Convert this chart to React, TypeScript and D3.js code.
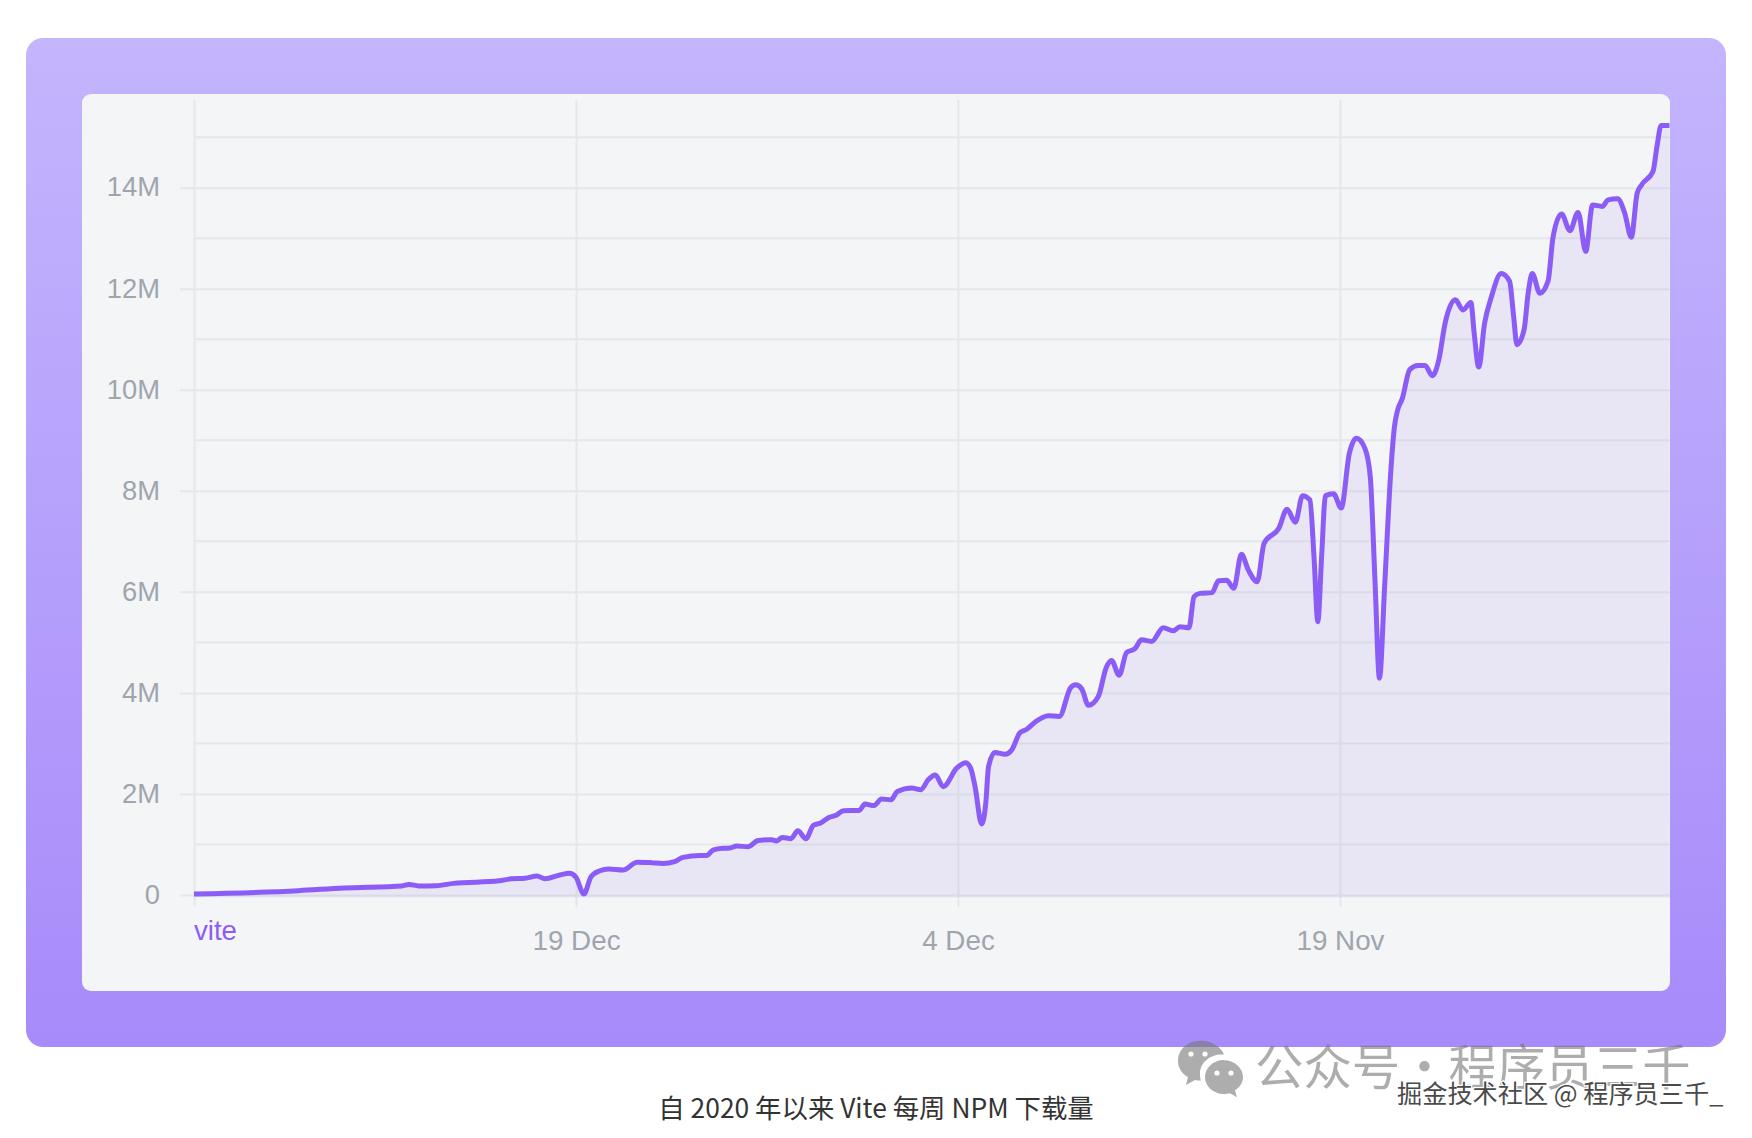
import React, { useEffect, useRef } from 'react';
import * as d3 from 'd3';

// days counted from the left edge of the axis
const dayOffsets = [
  0, 4.1, 5.89, 8.17, 8.44, 8.83, 9.5, 10.19, 11.98, 12.45, 13, 13.47, 13.78, 14.37, 14.75, 15, 15.31, 15.59, 15.94,
  16.28, 16.85, 17.4, 17.96, 18.42, 18.87, 19.2, 19.87, 20.13, 20.38, 20.77, 21.05, 21.31, 21.75, 22.15, 22.68, 22.88,
  23.1, 23.44, 23.71, 24.03, 24.32, 24.58, 24.91, 25.24, 25.5, 26.12, 26.35, 26.7, 27, 27.37, 27.62, 28.18, 28.54,
  28.83, 29.11, 29.42, 29.95, 30.3, 30.5, 30.67, 30.93, 31.09, 31.2, 31.45, 31.85, 32.11, 32.43, 32.7, 33.02, 33.55,
  33.98, 34.42, 34.62, 34.86, 35.12, 35.51, 35.82, 36.03, 36.33, 36.62, 36.95, 37.21, 37.61, 38.06, 38.45, 38.72, 39.07, 39.27, 39.5,
  39.98, 40.23, 40.55, 40.83, 41.13, 41.4, 41.75, 42.02, 42.6, 42.92, 43.25, 43.53, 43.82, 43.98, 44.13, 44.28, 44.43,
  44.75, 45.05, 45.37, 45.65, 45.98, 46.19, 46.38, 46.55, 46.76, 47, 47.14, 47.25, 47.45, 47.74, 48.07, 48.34, 48.63,
  48.88, 49.13, 49.53, 49.83, 50.14, 50.27, 50.45, 50.68, 50.93, 51.33, 51.66, 51.82, 51.95, 52.23, 52.39, 52.55,
  52.85, 53.17, 53.37, 53.7, 54.03, 54.35, 54.65, 54.92, 55.3, 55.53, 55.9, 56.18, 56.44, 56.67, 56.85, 57.29, 57.45,
  57.61, 57.94,
];

// weekly downloads, millions
const downloads = [
  0.02, 0.085, 0.14, 0.18, 0.21, 0.18, 0.185, 0.23, 0.28, 0.32, 0.33, 0.376, 0.32, 0.396, 0.43, 0.35, 0.02, 0.36, 0.48,
  0.515, 0.495, 0.65, 0.64, 0.625, 0.66, 0.745, 0.78, 0.78, 0.89, 0.925, 0.93, 0.97, 0.955, 1.08, 1.095, 1.07,
  1.14, 1.115, 1.27, 1.115, 1.38, 1.42, 1.53, 1.585, 1.67, 1.675, 1.8, 1.77, 1.9, 1.885, 2.05, 2.12, 2.085,
  2.28, 2.376, 2.145, 2.51, 2.62, 2.51, 2.145, 1.405, 1.81, 2.54, 2.82, 2.785, 2.87, 3.21, 3.28, 3.42, 3.55,
  3.535, 4.1, 4.16, 4.08, 3.755, 3.93, 4.5, 4.64, 4.35, 4.8, 4.875, 5.05, 5.02, 5.29, 5.23, 5.31, 5.29, 5.905, 5.97,
  5.985, 6.22, 6.23, 6.07, 6.745, 6.435, 6.2, 6.96, 7.26, 7.635, 7.38, 7.905, 7.82, 6.7, 5.41, 6.7, 7.905,
  7.94, 7.66, 8.745, 9.04, 8.84, 8.28, 6.17, 4.29, 6.17, 8.415, 9.27, 9.57, 9.83, 10.4, 10.48, 10.48, 10.28,
  10.59, 11.32, 11.78, 11.58, 11.73, 11.12, 10.45, 11.32, 11.81, 12.3, 12.15, 11.45, 10.89, 11.19, 11.91, 12.3,
  11.91, 12.15, 13.03, 13.48, 13.15, 13.51, 12.74, 13.66, 13.63, 13.76, 13.78, 13.5, 13.02, 13.89, 14.06, 14.32, 14.82,
  15.23, 15.23,
];

const xTickDays = [0, 15, 30, 45];
const xTickLabels = ['', '19 Dec', '4 Dec', '19 Nov'];
const yMajorTicks = [0, 2, 4, 6, 8, 10, 12, 14];
const yMinorTicks = [1, 3, 5, 7, 9, 11, 13, 15];
const seriesName = 'vite';
const caption = '自 2020 年以来 Vite 每周 NPM 下载量';
const watermark = '公众号·程序员三千';
const siteMark = '掘金技术社区 @ 程序员三千_';

const W = 1752;
const H = 1138;
const VIOLET = '#8b5cf6';
const GRID = '#e5e7eb';
const TICK_TEXT = '#9fa5ad';
const SANS = '"Liberation Sans", Arial, sans-serif';
const CJK = '"Noto Sans CJK SC", "Liberation Sans", sans-serif';

export default function App() {
  const svgRef = useRef<SVGSVGElement>(null);

  useEffect(() => {
    if (!svgRef.current) return;
    const svg = d3.select(svgRef.current);
    svg.selectAll('*').remove();

    const card = { left: 26, top: 38, right: 1726, bottom: 1047 };
    const inner = { left: 82, top: 94, right: 1670, bottom: 991 };
    const plot = { left: 194, top: 100, right: 1670, bottom: 907 };

    const x = d3.scaleLinear().domain([0, 57.96]).range([plot.left, plot.right]);
    const y = d3.scaleLinear().domain([0, 14]).range([895, 187.7]);

    const defs = svg.append('defs');
    const grad = defs.append('linearGradient').attr('id', 'card-bg').attr('x1', 0).attr('y1', 0).attr('x2', 0).attr('y2', 1);
    grad.append('stop').attr('offset', '0%').attr('stop-color', '#c4b5fd');
    grad.append('stop').attr('offset', '100%').attr('stop-color', '#a78bfa');
    defs.append('clipPath').attr('id', 'inner-clip')
      .append('rect')
      .attr('x', inner.left).attr('y', inner.top)
      .attr('width', inner.right - inner.left).attr('height', inner.bottom - inner.top)
      .attr('rx', 9);

    svg.append('rect')
      .attr('x', card.left).attr('y', card.top)
      .attr('width', card.right - card.left).attr('height', card.bottom - card.top)
      .attr('rx', 17)
      .attr('fill', 'url(#card-bg)');

    svg.append('rect')
      .attr('x', inner.left).attr('y', inner.top)
      .attr('width', inner.right - inner.left).attr('height', inner.bottom - inner.top)
      .attr('rx', 9)
      .attr('fill', '#f3f5f7');

    const chart = svg.append('g').attr('clip-path', 'url(#inner-clip)');

    // minor horizontal lines start at the first vertical line
    chart.append('g')
      .selectAll('line')
      .data(yMinorTicks)
      .join('line')
      .attr('x1', plot.left).attr('x2', plot.right)
      .attr('y1', d => y(d)).attr('y2', d => y(d))
      .attr('stroke', GRID).attr('stroke-width', 2);

    // major lines with their labels
    const yAxis = d3.axisLeft(y)
      .tickValues(yMajorTicks)
      .tickSize(-(plot.right - 180))
      .tickPadding(20)
      .tickFormat(d => (+d === 0 ? '0' : `${d}M`));

    const yG = chart.append('g').attr('transform', 'translate(180,0)').call(yAxis);
    yG.select('.domain').remove();
    yG.selectAll('line').attr('stroke', GRID).attr('stroke-width', 2);
    yG.selectAll('text')
      .attr('y', -0.5)
      .attr('fill', TICK_TEXT)
      .attr('font-family', SANS)
      .attr('font-size', 27.4);

    // vertical lines with the date labels
    const xAxis = d3.axisBottom(x)
      .tickValues(xTickDays)
      .tickSize(-(plot.bottom - plot.top))
      .tickPadding(0)
      .tickFormat((_, i) => xTickLabels[i]);

    const xG = chart.append('g').attr('transform', `translate(0,${plot.bottom})`).call(xAxis);
    xG.select('.domain').remove();
    xG.selectAll('line').attr('stroke', GRID).attr('stroke-width', 2);
    xG.selectAll('text')
      .attr('y', 42.5)
      .attr('dy', 0)
      .attr('fill', TICK_TEXT)
      .attr('font-family', SANS)
      .attr('font-size', 27.8);

    const points = dayOffsets.map((d, i) => ({ day: d, value: downloads[i] }));

    const area = d3.area<{ day: number; value: number }>()
      .x(d => x(d.day))
      .y0(y(-0.05))
      .y1(d => y(d.value))
      .curve(d3.curveMonotoneX);

    chart.append('path')
      .datum(points)
      .attr('fill', '#7c5ce0')
      .attr('fill-opacity', 0.09)
      .attr('d', area);

    const line = d3.line<{ day: number; value: number }>()
      .x(d => x(d.day))
      .y(d => y(d.value))
      .curve(d3.curveMonotoneX);

    chart.append('path')
      .datum(points)
      .attr('fill', 'none')
      .attr('stroke', VIOLET)
      .attr('stroke-width', 5)
      .attr('stroke-linejoin', 'round')
      .attr('d', line);

    chart.append('text')
      .attr('x', x(0)).attr('y', 940)
      .attr('fill', VIOLET)
      .attr('font-family', SANS)
      .attr('font-size', 27.6)
      .text(seriesName);

    svg.append('text')
      .attr('x', 876).attr('y', 1118)
      .attr('text-anchor', 'middle')
      .attr('fill', '#333')
      .attr('font-family', CJK)
      .attr('font-size', 26.4)
      .text(caption);

    // watermark: two chat bubbles, name, then the site line on top
    const mark = svg.append('g').attr('fill', '#777').attr('fill-opacity', 0.6);
    mark.append('path').attr('d', 'M1199 1041c-12 0-21 9-21 20 0 7 4 13 10 16l-2 8 9-5c2 .5 4 .6 6 .6-1-2-1-5-1-7 0-11 10-19 22-19 1 0 1 0 2 0-3-8-13-14-25-14z');
    mark.append('path').attr('d', 'M1224 1060c-11 0-19 8-19 17s8 17 19 17c2 0 4-.3 6-.8l7 4-2-7c5-3 8-8 8-13 0-9-8-17-19-17z');
    svg.append('g').attr('fill', '#fff')
      .selectAll('circle')
      .data([[1191, 1054], [1205, 1054], [1217, 1073], [1231, 1073]])
      .join('circle')
      .attr('cx', d => d[0]).attr('cy', d => d[1]).attr('r', 2.6);

    svg.append('text')
      .attr('x', 1255).attr('y', 1085)
      .attr('fill', '#777').attr('fill-opacity', 0.6)
      .attr('font-family', CJK)
      .attr('font-size', 48.4)
      .text(watermark);

    svg.append('text')
      .attr('x', 1397).attr('y', 1103)
      .attr('fill', '#4a4a4a')
      .attr('stroke', '#fff').attr('stroke-width', 2.5).attr('paint-order', 'stroke')
      .attr('font-family', CJK)
      .attr('font-size', 25.2)
      .text(siteMark);
  }, []);

  return (
    <svg
      ref={svgRef}
      width={W}
      height={H}
      style={{ position: 'absolute', left: 0, top: 0, display: 'block', background: '#fff' }}
    />
  );
}
